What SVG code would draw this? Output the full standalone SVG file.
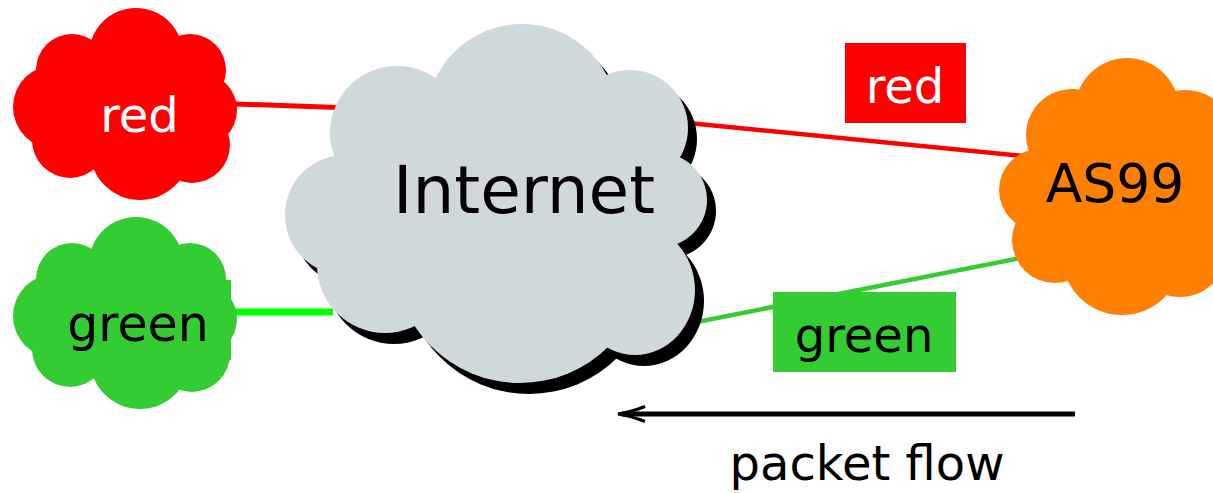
<svg xmlns="http://www.w3.org/2000/svg" xmlns:xlink="http://www.w3.org/1999/xlink" width="1213" height="493" viewBox="0 0 1213 493">
<style>
text{font-family:"DejaVu Sans","Liberation Sans",sans-serif;text-anchor:middle}
.lbl{font-size:48px}
.white{fill:#ffffff}
.black{fill:#000000}
.red{fill:#ff0000}
.green{fill:#33cc33}
.orange{fill:#ff8000}
.gray{fill:#cfd9db}
.edge{fill:none;stroke-linecap:butt}
</style>
<defs>
<g id="smallcloud">
<circle cx="136" cy="55" r="47"/>
<circle cx="72" cy="70" r="36"/>
<circle cx="190" cy="70" r="36"/>
<circle cx="55" cy="107" r="42"/>
<circle cx="200" cy="110" r="37"/>
<circle cx="70" cy="140" r="38"/>
<circle cx="140" cy="150" r="50"/>
<circle cx="192" cy="145" r="38"/>
<ellipse cx="130" cy="105" rx="80" ry="60"/>
</g>
<g id="bigcloud">
<circle cx="522" cy="120" r="96"/>
<circle cx="397" cy="133" r="67"/>
<circle cx="630" cy="128" r="58"/>
<circle cx="660" cy="200" r="47"/>
<ellipse cx="635" cy="290" rx="60" ry="65"/>
<circle cx="520" cy="257" r="126"/>
<circle cx="385" cy="265" r="68"/>
<circle cx="345" cy="215" r="60"/>
<ellipse cx="520" cy="210" rx="150" ry="110"/>
</g>
<marker id="head" markerUnits="userSpaceOnUse" markerWidth="40" markerHeight="30" refX="25" refY="15" orient="auto" overflow="visible">
<path d="M2,7.5 Q16,13 29,15 Q16,17 2,22.5" fill="none" stroke="#000" stroke-width="3"/>
</marker>
</defs>

<g id="connectors">
<line class="edge" x1="180" y1="102" x2="380" y2="109" stroke="#ff0000" stroke-width="5"/>
<line class="edge" x1="200" y1="312" x2="333" y2="312" stroke="#00ff00" stroke-width="7"/>
<line class="edge" x1="600" y1="114.3" x2="1100" y2="163.5" stroke="#ff0000" stroke-width="4.5"/>
<line class="edge" x1="600" y1="341.2" x2="1100" y2="242.2" stroke="#33cc33" stroke-width="4.5"/>
</g>

<g id="edge-labels">
<g id="label-red">
<rect class="red" x="845" y="43" width="121" height="80"/>
<text class="lbl white" x="905" y="103">red</text>
</g>
<g id="label-green">
<rect class="green" x="773" y="292" width="183" height="80"/>
<text class="lbl black" x="864" y="352">green</text>
</g>
</g>

<g id="node-red">
<use xlink:href="#smallcloud" href="#smallcloud" class="red"/>
<text class="lbl white" x="139.5" y="132">red</text>
</g>

<g id="node-green">
<use xlink:href="#smallcloud" href="#smallcloud" class="green" transform="translate(0,209)"/>
<rect class="green" x="48" y="280" width="183" height="80"/>
<text class="black" x="138" y="341" font-size="49">green</text>
</g>

<g id="node-internet">
<use xlink:href="#bigcloud" href="#bigcloud" class="black" transform="translate(9,11)"/>
<use xlink:href="#bigcloud" href="#bigcloud" class="gray"/>
<text class="black" x="524" y="213" font-size="66">Internet</text>
</g>

<g id="node-as99">
<g class="orange">
<circle cx="1127" cy="110" r="52"/>
<circle cx="1072" cy="135" r="46"/>
<circle cx="1185" cy="140" r="50"/>
<circle cx="1040" cy="190" r="41"/>
<circle cx="1055" cy="240" r="43"/>
<circle cx="1122" cy="255" r="60"/>
<circle cx="1180" cy="250" r="47"/>
<circle cx="1200" cy="195" r="45"/>
<ellipse cx="1120" cy="190" rx="75" ry="80"/>
</g>
<text class="black" x="1115" y="202" font-size="53.5">AS99</text>
</g>

<g id="flow">
<line x1="1075" y1="414" x2="622" y2="414" stroke="#000" stroke-width="5" marker-end="url(#head)"/>
<text class="lbl black" x="867" y="480">packet flow</text>
</g>
</svg>
